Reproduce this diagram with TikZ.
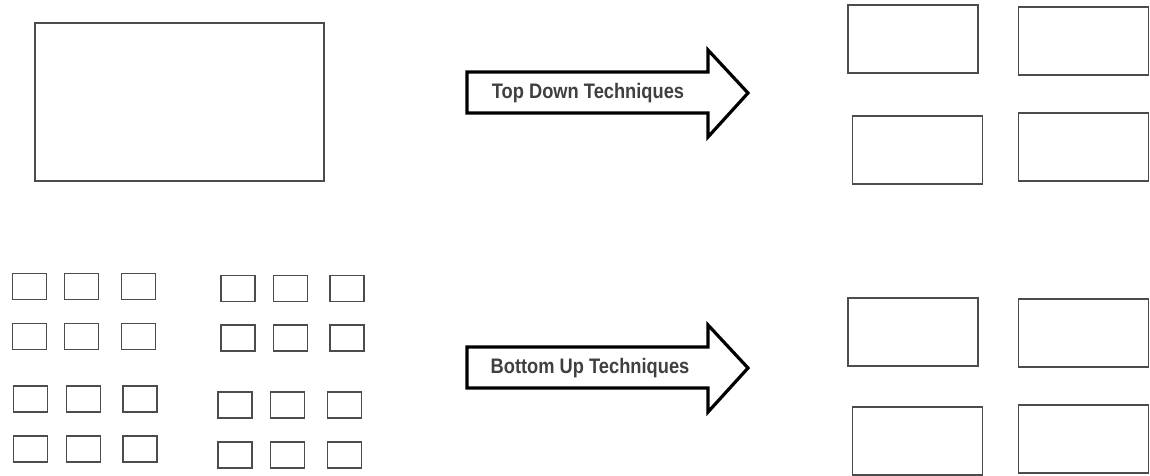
\documentclass[tikz,border=0pt]{standalone}
\usepackage{fontspec}
\usepackage{graphicx}
\setmainfont{Liberation Sans}
\newcommand{\narrowtext}[1]{\scalebox{0.87}[1]{#1}}
\begin{document}
\begin{tikzpicture}[x=1pt, y=-1pt,
    box/.style = {draw=black!70, line width=1.3pt, inner sep=0pt},
    bigbox/.style = {box, minimum width=130, minimum height=68},
    tinybox/.style = {box, minimum width=34, minimum height=26},
    fatarrow/.style = {draw=black, line width=3.2pt, line join=miter, fill=white},
    arrowlabel/.style = {font=\bfseries\fontsize{21}{24}\selectfont, text=black!75, inner sep=0pt}]
  \useasboundingbox (0,0) rectangle (1150,475);

  % one large block
  \node[box, minimum width=289, minimum height=158] (whole) at (179.5,102) {};

  % top down arrow
  \draw[fatarrow] (467,72) -- (708,72) -- (708,50) -- (748,93) -- (708,137)
    -- (708,113) -- (467,113) -- cycle;
  \node[arrowlabel] (topdown) at (588,93) {\narrowtext{Top Down Techniques}};

  % split blocks
  \node[bigbox] (split-1) at (913,39) {};
  \node[bigbox] (split-2) at (1083.5,41) {};
  \node[bigbox] (split-3) at (917.5,150) {};
  \node[bigbox] (split-4) at (1083.5,147) {};

  % many small blocks
  \foreach \x [count=\i] in {29.5,81.5,138.5}
    \foreach \y [count=\j] in {286.5,336.5}
      \node[tinybox] (piece-a-\i-\j) at (\x,\y) {};
  \foreach \x [count=\i] in {30.5,83.5,140}
    \foreach \y [count=\j] in {399,449}
      \node[tinybox] (piece-b-\i-\j) at (\x,\y) {};
  \foreach \x [count=\i] in {238,290.5,347}
    \foreach \y [count=\j] in {288.5,338}
      \node[tinybox] (piece-c-\i-\j) at (\x,\y) {};
  \foreach \x [count=\i] in {235,287.5,344.5}
    \foreach \y [count=\j] in {405,455}
      \node[tinybox] (piece-d-\i-\j) at (\x,\y) {};

  % bottom up arrow
  \draw[fatarrow] (467,347) -- (708,347) -- (708,325) -- (748,368) -- (708,412)
    -- (708,388) -- (467,388) -- cycle;
  \node[arrowlabel] (bottomup) at (590,368) {\narrowtext{Bottom Up Techniques}};

  % merged blocks
  \node[bigbox] (merge-1) at (913,332) {};
  \node[bigbox] (merge-2) at (1083.5,333) {};
  \node[bigbox] (merge-3) at (917.5,441) {};
  \node[bigbox] (merge-4) at (1083.5,439) {};
\end{tikzpicture}
\end{document}
